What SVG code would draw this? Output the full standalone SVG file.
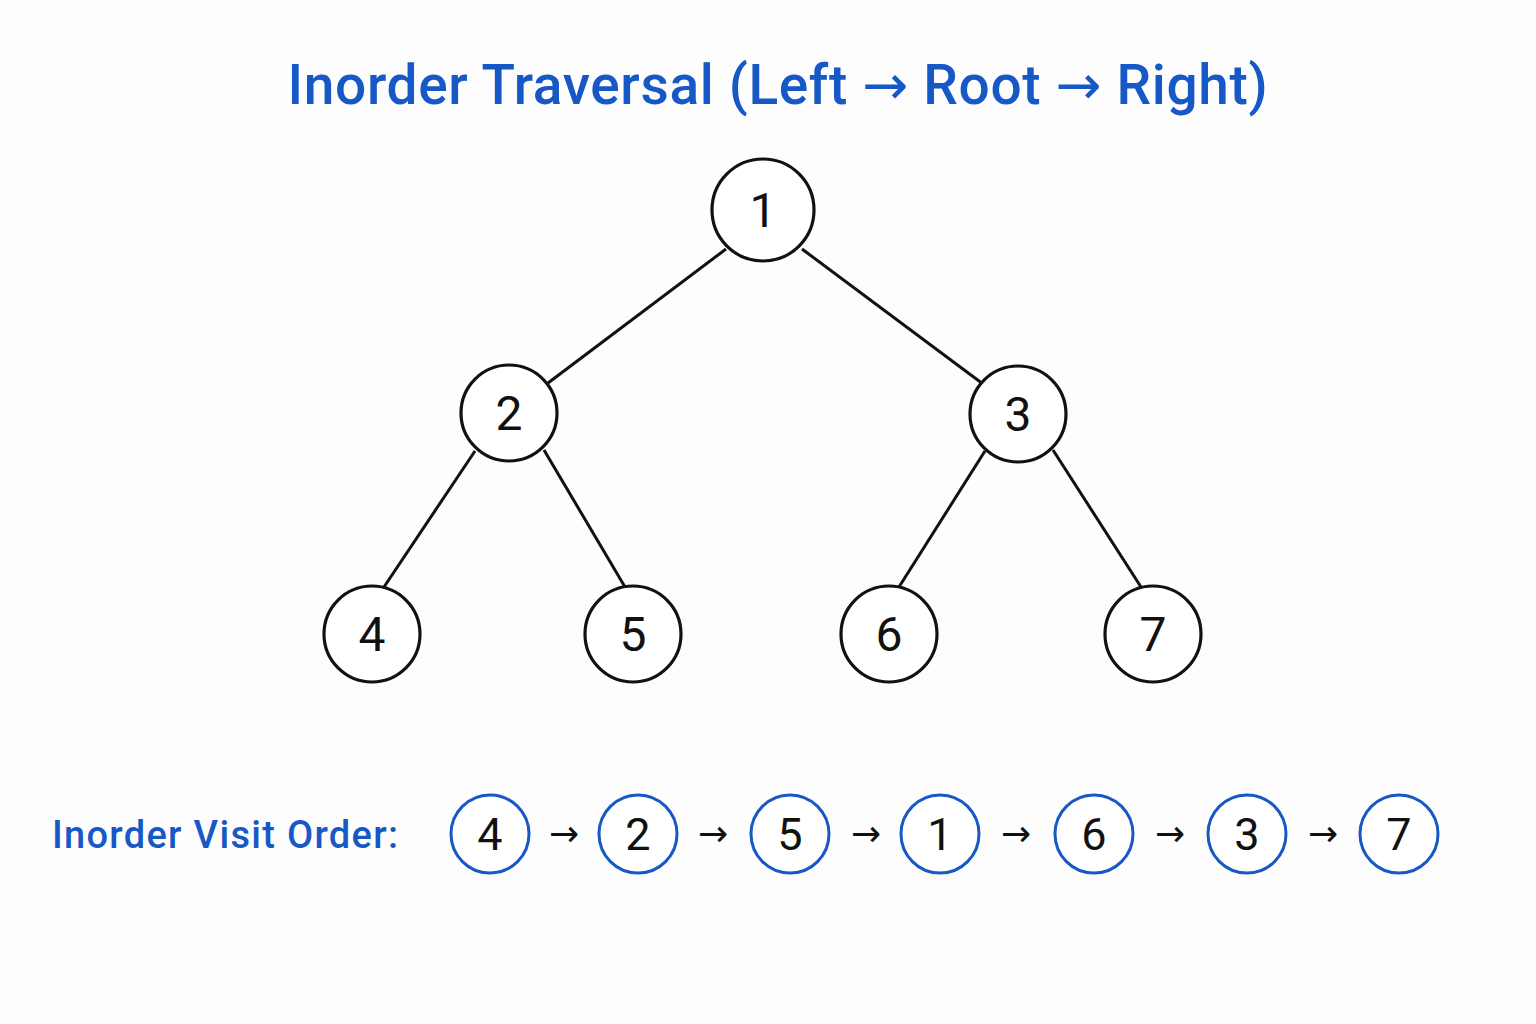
<svg xmlns="http://www.w3.org/2000/svg" width="1536" height="1024" viewBox="0 0 1536 1024">
<style>
.title{font-family:Roboto,"Liberation Sans",sans-serif;font-weight:500;font-size:55px;letter-spacing:0.65px;fill:#1658c6}
.tarr{font-family:"DejaVu Sans",sans-serif;font-weight:normal}
.label{font-family:Roboto,"Liberation Sans",sans-serif;font-weight:500;font-size:38px;letter-spacing:1.3px;fill:#1658c6}
.node circle{fill:#fff;stroke:#111;stroke-width:3.2}
.node text{font-family:Roboto,"Liberation Sans",sans-serif;font-size:48px;fill:#111;text-anchor:middle}
.seq circle{fill:#fff;stroke:#1658c6;stroke-width:3}
.seq text{font-family:Roboto,"Liberation Sans",sans-serif;font-size:45px;fill:#111;text-anchor:middle}
.arr{font-family:"DejaVu Sans",sans-serif;font-size:36px;fill:#111;text-anchor:middle}
.edge{stroke:#111;stroke-width:3;fill:none}
</style>
<rect width="1536" height="1024" fill="#fdfdfd"/>
<text class="title" x="778" y="104" text-anchor="middle">Inorder Traversal (Left <tspan class="tarr">→</tspan> Root <tspan class="tarr">→</tspan> Right)</text>
<g id="connectors">
<line class="edge" x1="726" y1="249" x2="548" y2="383"/>
<line class="edge" x1="802" y1="249" x2="983" y2="384"/>
<line class="edge" x1="475" y1="451" x2="384" y2="587"/>
<line class="edge" x1="544" y1="450" x2="625" y2="587"/>
<line class="edge" x1="985" y1="451" x2="899" y2="587"/>
<line class="edge" x1="1053" y1="450" x2="1141" y2="587"/>
</g>
<g id="node1" class="node"><circle cx="763" cy="210" r="51"/><text x="763" y="227">1</text></g>
<g id="node2" class="node"><circle cx="509" cy="413" r="48"/><text x="509" y="430">2</text></g>
<g id="node3" class="node"><circle cx="1018" cy="414" r="48"/><text x="1018" y="431">3</text></g>
<g id="node4" class="node"><circle cx="372" cy="634" r="48"/><text x="372" y="651">4</text></g>
<g id="node5" class="node"><circle cx="633" cy="634" r="48"/><text x="633" y="651">5</text></g>
<g id="node6" class="node"><circle cx="889" cy="634" r="48"/><text x="889" y="651">6</text></g>
<g id="node7" class="node"><circle cx="1153" cy="634" r="48"/><text x="1153" y="651">7</text></g>
<text class="label" x="52" y="848">Inorder Visit Order:</text>
<g id="seq4" class="seq"><circle cx="490" cy="834" r="39"/><text x="490" y="850">4</text></g>
<g id="seq2" class="seq"><circle cx="638" cy="834" r="39"/><text x="638" y="850">2</text></g>
<g id="seq5" class="seq"><circle cx="790" cy="834" r="39"/><text x="790" y="850">5</text></g>
<g id="seq1" class="seq"><circle cx="940" cy="834" r="39"/><text x="940" y="850">1</text></g>
<g id="seq6" class="seq"><circle cx="1094" cy="834" r="39"/><text x="1094" y="850">6</text></g>
<g id="seq3" class="seq"><circle cx="1247" cy="834" r="39"/><text x="1247" y="850">3</text></g>
<g id="seq7" class="seq"><circle cx="1399" cy="834" r="39"/><text x="1399" y="850">7</text></g>
<g id="seq-arrows">
<text class="arr" x="564" y="846">→</text>
<text class="arr" x="713" y="846">→</text>
<text class="arr" x="866" y="846">→</text>
<text class="arr" x="1016" y="846">→</text>
<text class="arr" x="1170" y="846">→</text>
<text class="arr" x="1323" y="846">→</text>
</g>
</svg>
